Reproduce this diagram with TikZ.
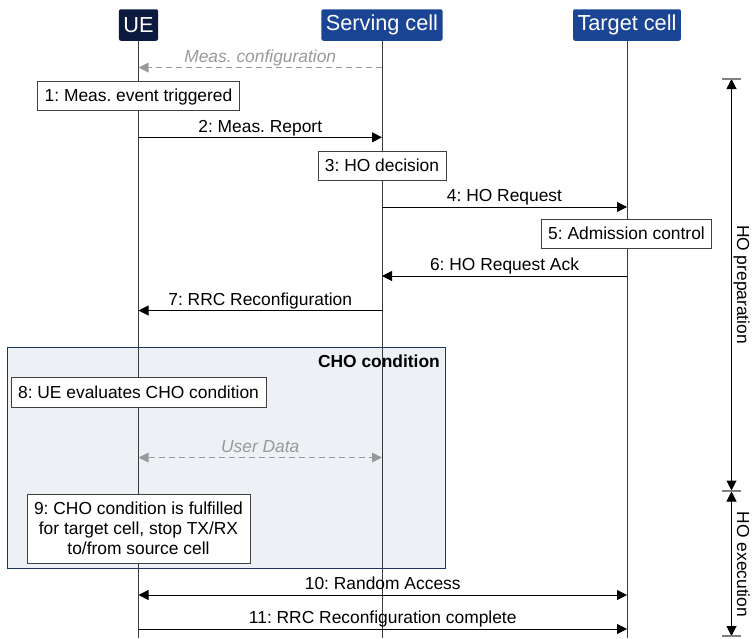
\documentclass[tikz,border=0pt]{standalone}
\usepackage{fontspec}
\setmainfont{Liberation Sans}
\usetikzlibrary{arrows.meta}
\definecolor{uecol}{HTML}{0B1A3E}
\definecolor{cellcol}{HTML}{1A4595}
\definecolor{chofill}{HTML}{EDF1F5}
\definecolor{choline}{HTML}{1C3461}
\definecolor{dashcol}{HTML}{999999}
\definecolor{lifecol}{HTML}{3A3A3A}
\definecolor{barcol}{HTML}{808080}
\frenchspacing
\begin{document}
\frenchspacing
\begin{tikzpicture}[x=1pt,y=-1pt,
  hdr/.style={rounded corners=2pt, text=white, font=\fontsize{21.7}{24}\selectfont,
    minimum height=31.5pt, inner xsep=4.5pt, inner ysep=0pt},
  stepbox/.style={draw=black!75, fill=white, line width=0.8pt,
    font=\fontsize{17.4}{20}\selectfont, minimum height=29.5pt, inner xsep=7pt,
    inner ysep=0pt, text height=12.7pt, text depth=1.7pt},
  bigbox/.style={draw=black!75, fill=white, line width=0.8pt,
    font=\fontsize{17.4}{20}\selectfont, align=center, minimum height=69pt,
    inner xsep=7pt, inner ysep=0pt},
  lbl/.style={font=\fontsize{17.4}{20}\selectfont, anchor=base, inner sep=0pt, yshift=5.3pt},
  glbl/.style={font=\fontsize{17.4}{20}\selectfont\itshape, text=dashcol, anchor=base, inner sep=0pt, yshift=5.3pt},
  life/.style={draw=lifecol, line width=1pt},
  msg/.style={line width=1pt, -{Triangle[length=10pt,width=10pt]}},
  dmsg/.style={line width=1pt, {Triangle[length=10pt,width=10pt]}-{Triangle[length=10pt,width=10pt]}},
  gmsg/.style={draw=dashcol, line width=1.6pt, dash pattern=on 6pt off 4pt,
    -{Triangle[length=10pt,width=10pt,line width=0pt]}},
  gdmsg/.style={draw=dashcol, line width=1.6pt, dash pattern=on 6pt off 4pt,
    {Triangle[length=10pt,width=10pt,line width=0pt]}-{Triangle[length=10pt,width=10pt,line width=0pt]}},
  brk/.style={line width=1pt, {Triangle[length=10pt,width=10pt]}-{Triangle[length=10pt,width=10pt]}},
  barline/.style={draw=barcol, line width=1.5pt},
  rlbl/.style={font=\fontsize{17.4}{20}\selectfont, anchor=base, inner sep=0pt, rotate=-90}
]
\useasboundingbox (0,0) rectangle (752,638);

% CHO condition frame
\draw[fill=chofill, draw=choline, line width=1pt] (7,347) rectangle (445,568);
\node[font=\fontsize{17.4}{20}\selectfont\bfseries, anchor=base east, inner sep=0pt] (chot) at (440,367) {CHO condition};

% headers
\node[hdr, fill=uecol] (ue) at (138.5,25) {UE};
\node[hdr, fill=cellcol] (sc) at (382,25) {Serving cell};
\node[hdr, fill=cellcol] (tc) at (627,25) {Target cell};

% lifeline ends
\coordinate (ueend) at (138.5,638);
\coordinate (scend) at (382,638);
\coordinate (tcend) at (627,638);
\draw[life] (ue.south) -- (ueend);
\draw[life] (sc.south) -- (scend);
\draw[life] (tc.south) -- (tcend);

% message endpoints
\coordinate (s0) at (382,67.5);   \coordinate (u0) at (138.5,67.5);
\coordinate (u2) at (138.5,137.3); \coordinate (s2) at (382,137.3);
\coordinate (s4) at (382,207);    \coordinate (t4) at (627,207);
\coordinate (t6) at (627,276);    \coordinate (s6) at (382,276);
\coordinate (s7) at (382,310.5);  \coordinate (u7) at (138.5,310.5);
\coordinate (ud1) at (138.5,457.5); \coordinate (ud2) at (382,457.5);
\coordinate (u10) at (138.5,595); \coordinate (t10) at (627,595);
\coordinate (u11) at (138.5,629); \coordinate (t11) at (627,629);

\draw[gmsg] (s0) -- node[glbl] {Meas. configuration} (u0);
\node[stepbox] (b1) at (138.5,96) {1: Meas. event triggered};
\draw[msg] (u2) -- node[lbl] {2: Meas. Report} (s2);
\node[stepbox] (b3) at (382,166) {3: HO decision};
\draw[msg] (s4) -- node[lbl] {4: HO Request} (t4);
\node[stepbox] (b5) at (626.5,234) {5: Admission control};
\draw[msg] (t6) -- node[lbl] {6: HO Request Ack} (s6);
\draw[msg] (s7) -- node[lbl] {7: RRC Reconfiguration} (u7);

\node[stepbox] (b8) at (138.5,392.5) {8: UE evaluates CHO condition};
\draw[gdmsg] (ud1) -- node[glbl] {User Data} (ud2);
\node[bigbox] (b9) at (138.5,528.5) {9: CHO condition is fulfilled\\for target cell, stop TX/RX\\to/from source cell};

\draw[dmsg] (u10) -- node[lbl] {10: Random Access} (t10);
\draw[msg] (u11) -- node[lbl] {11: RRC Reconfiguration complete} (t11);

% phase brackets
\coordinate (bt) at (731.5,79);
\coordinate (bm1) at (731.5,490.5);
\coordinate (bm2) at (731.5,491.5);
\coordinate (bb) at (731.5,636);
\draw[brk] (bt) -- (bm1);
\draw[brk] (bm2) -- (bb);
\draw[barline] (722,79) -- (741,79);
\draw[barline] (722,491) -- (741,491);
\draw[barline] (722,636) -- (741,636);
\node[rlbl] (hop) at (737,284.5) {HO preparation};
\node[rlbl] (hoe) at (737,564.5) {HO execution};
\end{tikzpicture}
\end{document}
